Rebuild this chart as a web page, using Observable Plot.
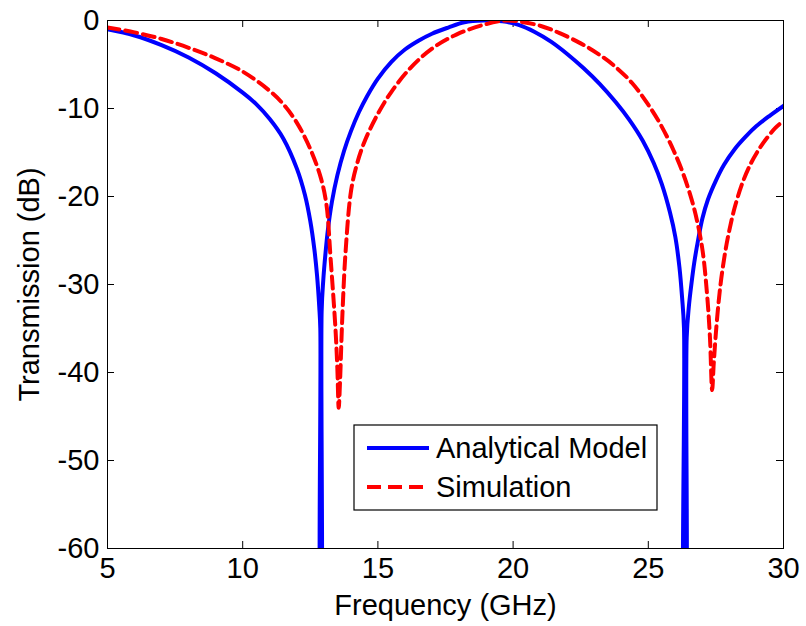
<!DOCTYPE html>
<html>
<head>
<meta charset="utf-8">
<script src="https://cdn.jsdelivr.net/npm/d3@7"></script>
<script src="https://cdn.jsdelivr.net/npm/@observablehq/plot@0.6"></script>
<style>
  html, body { margin: 0; padding: 0; background: #fff; }
  #chart { width: 806px; height: 626px; }
</style>
</head>
<body>
<div id="chart"></div>
<script>
// ---- Data ----
const xTicks = [5, 10, 15, 20, 25, 30];
const yTicks = [-60, -50, -40, -30, -20, -10, 0];

const analyticalFreq = [5.0, 6.0, 7.0, 8.0, 9.0, 10.0, 10.5, 11.0, 11.5, 12.0, 12.3, 12.5, 12.65, 12.75, 12.83, 12.87, 12.88, 12.89, 12.92, 12.98, 13.06, 13.15, 13.3, 13.5, 13.75, 14.0, 14.3, 14.6, 15.0, 15.5, 16.0, 16.5, 17.0, 17.6, 18.2, 18.9, 19.6, 20.2, 20.8, 21.4, 22.0, 22.6, 23.2, 23.8, 24.3, 24.8, 25.2, 25.5, 25.8, 26.0, 26.15, 26.25, 26.32, 26.34, 26.36, 26.42, 26.5, 26.6, 26.7, 26.85, 27.0, 27.2, 27.5, 27.8, 28.2, 28.6, 29.0, 29.5, 30.0];
const analyticalDb = [-1.0, -1.7, -2.8, -4.2, -6.0, -8.2, -9.5, -11.2, -13.4, -16.8, -19.8, -22.8, -26.0, -29.0, -32.5, -35.0, -70, -70, -33.0, -29.5, -26.5, -23.8, -20.6, -17.6, -14.8, -12.6, -10.4, -8.6, -6.6, -4.7, -3.3, -2.3, -1.5, -0.8, -0.2, 0, -0.1, -0.5, -1.3, -2.4, -3.8, -5.4, -7.2, -9.3, -11.3, -13.7, -16.2, -18.6, -21.8, -24.6, -28.0, -31.5, -35.0, -70, -70, -36.0, -32.5, -29.8, -27.5, -24.8, -22.5, -20.4, -18.2, -16.4, -14.6, -13.2, -12.0, -10.8, -9.7];

const simulationFreq = [5.0, 6.0, 7.0, 8.0, 9.0, 10.0, 11.0, 11.5, 12.0, 12.5, 12.9, 13.1, 13.25, 13.43, 13.5, 13.55, 13.6, 13.65, 13.7, 13.8, 14.0, 14.2, 14.5, 15.0, 15.5, 16.2, 17.0, 17.9, 18.9, 19.7, 20.3, 21.0, 21.7, 22.5, 23.1, 23.72, 24.4, 24.96, 25.45, 25.94, 26.3, 26.68, 26.99, 27.17, 27.28, 27.36, 27.42, 27.5, 27.6, 27.7, 27.85, 28.0, 28.2, 28.5, 28.8, 29.1, 29.4, 29.7, 30.0];
const simulationDb = [-0.8, -1.35, -2.1, -3.1, -4.3, -5.8, -8.0, -9.5, -11.6, -14.6, -18.0, -21.0, -27.0, -35.0, -39.5, -44.0, -41.0, -36.5, -32.5, -26.5, -19.5, -16.6, -13.8, -10.6, -8.1, -5.4, -3.2, -1.6, -0.5, 0, -0.15, -0.6, -1.4, -2.6, -3.7, -5.1, -7.1, -9.4, -11.8, -14.8, -17.5, -21.2, -25.8, -31.0, -36.0, -42.0, -39.0, -35.5, -32.0, -29.3, -26.2, -23.8, -21.2, -18.3, -16.2, -14.6, -13.3, -12.2, -11.4];

const seriesNames = ["Analytical Model", "Simulation"];
const xLabel = "Frequency (GHz)";
const yLabel = "Transmission (dB)";

const analytical = analyticalFreq.map((f, i) => ({f, db: analyticalDb[i]}));
const simulation = simulationFreq.map((f, i) => ({f, db: simulationDb[i]}));

// ---- Layout ----
const W = 806, H = 626;
const mL = 107, mR = 23, mT = 20, mB = 78;
const frameW = W - mL - mR, frameH = H - mT - mB;
const tickLen = 7;
const FONT = "'Liberation Sans', Arial, Helvetica, sans-serif";

const chart = Plot.plot({
  width: W,
  height: H,
  marginLeft: mL,
  marginRight: mR,
  marginTop: mT,
  marginBottom: mB,
  style: {fontFamily: FONT, fontSize: "29px", color: "#000", background: "#fff", overflow: "visible"},
  x: {domain: [5, 30], ticks: xTicks},
  y: {domain: [-60, 0], ticks: yTicks},
  marks: [
    Plot.axisX(xTicks, {tickSize: 0, tickPadding: 9, label: null, tickFormat: d => String(d)}),
    Plot.axisY(yTicks, {tickSize: 0, tickPadding: 8, label: null, tickFormat: d => String(d)}),
    // inward tick marks on all four sides (MATLAB style)
    Plot.tickX(xTicks, {x: d => d, insetTop: frameH - tickLen, stroke: "#000"}),
    Plot.tickX(xTicks, {x: d => d, insetBottom: frameH - tickLen, stroke: "#000"}),
    Plot.tickY(yTicks, {y: d => d, insetRight: frameW - tickLen, stroke: "#000"}),
    Plot.tickY(yTicks, {y: d => d, insetLeft: frameW - tickLen, stroke: "#000"}),
    Plot.line(analytical, {x: "f", y: "db", stroke: "#0000ff", strokeWidth: 4, curve: "catmull-rom", clip: true}),
    Plot.line(simulation, {x: "f", y: "db", stroke: "#ff0000", strokeWidth: 4, strokeDasharray: "12,6", curve: "catmull-rom", clip: true}),
    Plot.frame({stroke: "#000", strokeWidth: 1}),
    Plot.text([xLabel], {text: d => d, frameAnchor: "bottom", dy: 57, lineAnchor: "middle", textAnchor: "middle", fill: "#000", fontSize: 29}),
    Plot.text([yLabel], {text: d => d, frameAnchor: "left", dx: -78, rotate: -90, lineAnchor: "middle", textAnchor: "middle", fill: "#000", fontSize: 29})
  ]
});

document.getElementById("chart").appendChild(chart);

// ---- Legend (boxed, inside the plot area) ----
const svg = d3.select(chart);
const lg = svg.append("g").attr("font-family", FONT).attr("font-size", 29).attr("text-anchor", "start");
const box = {x: 354, y: 425, w: 303, h: 85};
lg.append("rect").attr("x", box.x).attr("y", box.y).attr("width", box.w).attr("height", box.h)
  .attr("fill", "#fff").attr("stroke", "#000").attr("stroke-width", 1.2);
const legendItems = [
  {name: seriesNames[0], color: "#0000ff", dash: null, y: 448},
  {name: seriesNames[1], color: "#ff0000", dash: "14,7", y: 487}
];
legendItems.forEach(it => {
  lg.append("line").attr("x1", 367).attr("x2", 429).attr("y1", it.y).attr("y2", it.y)
    .attr("stroke", it.color).attr("stroke-width", 4).attr("stroke-dasharray", it.dash);
  lg.append("text").attr("x", 436).attr("y", it.y + 10).attr("text-anchor", "start").attr("fill", "#000").text(it.name);
});
</script>
</body>
</html>
